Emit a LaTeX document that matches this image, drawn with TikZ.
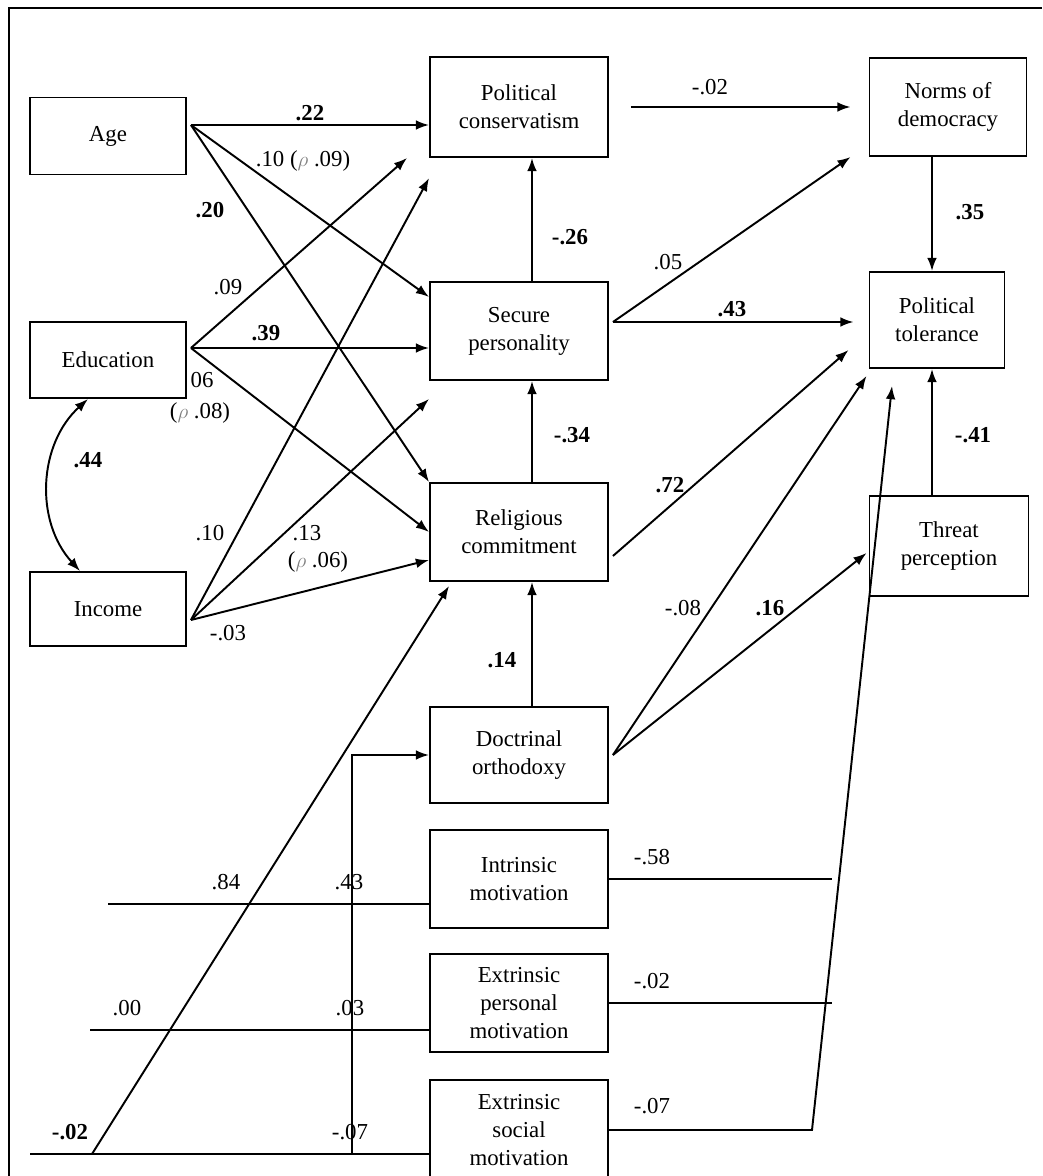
\documentclass[tikz,border=0pt]{standalone}
\usepackage{fontspec}
\setmainfont{Liberation Serif}
\usetikzlibrary{arrows.meta, calc}

\begin{document}
\begin{tikzpicture}[x=0.02cm, y=-0.02cm,
    box/.style={draw, line width=1.1pt, align=center, minimum width=3.56cm, minimum height=1.96cm, font=\fontsize{13}{16}\selectfont},
    arr/.style={-{Latex[length=7.5pt, width=5.5pt]}, line width=1.1pt},
    ln/.style={line width=1.1pt},
    lab/.style={font=\fontsize{13}{15}\selectfont, inner sep=0pt},
    blab/.style={font=\fontsize{13}{15}\selectfont\bfseries, inner sep=0pt}]
    \useasboundingbox (0,0) rectangle (1042,1176);
    \draw[ln] (9,1176) |- (1042,8);

    \node[box, minimum width=3.12cm, minimum height=1.54cm] (age) at (108,136) {Age};
    \node[box, minimum width=3.12cm, minimum height=1.52cm] (edu) at (108,360) {Education};
    \node[box, minimum width=3.12cm, minimum height=1.48cm] (inc) at (108,609) {Income};
    \node[box, minimum height=2cm] (cons) at (519,107) {Political\\conservatism};
    \node[box] (secure) at (519,331) {Secure\\personality};
    \node[box] (relig) at (519,532) {Religious\\commitment};
    \node[box, minimum height=1.92cm] (doctr) at (519,755) {Doctrinal\\orthodoxy};
    \node[box] (intr) at (519,879) {Intrinsic\\motivation};
    \node[box] (extp) at (519,1003) {Extrinsic\\personal\\motivation};
    \node[box, minimum height=2cm] (exts) at (519,1130) {Extrinsic\\social\\motivation};
    \node[box, minimum width=3.14cm] (norms) at (948,107) {Norms of\\democracy};
    \node[box, minimum width=2.7cm, minimum height=1.92cm] (tol) at (937,320) {Political\\tolerance};
    \node[box, minimum width=3.18cm, minimum height=2cm] (threat) at (949,546) {Threat\\perception};

    \coordinate (ageout) at ([xshift=0.08cm, yshift=0.22cm]age.east);
    \coordinate (eduout) at ([xshift=0.08cm, yshift=0.24cm]edu.east);
    \coordinate (incout) at ([xshift=0.08cm, yshift=-0.22cm]inc.east);
    \coordinate (secout) at ([xshift=0.08cm, yshift=0.18cm]secure.east);
    \coordinate (relout) at ([xshift=0.08cm, yshift=-0.48cm]relig.east);
    \coordinate (docout) at ([xshift=0.08cm]doctr.east);
    \coordinate (rend) at (832,0);
    \coordinate (turn) at (812,1130);
    \coordinate (lin1) at (108,904);
    \coordinate (lin2) at (90,1030);
    \coordinate (lin3) at (30,1154);
    \coordinate (diag) at (92,1154);
    \coordinate (vert) at (352,1154);

    \draw[arr] (ageout) -- (ageout -| cons.west);
    \draw[arr] (ageout) -- ([yshift=0.68cm]secure.west);
    \draw[arr] (ageout) -- (relig.north west);
    \draw[arr] (eduout) -- ([xshift=-0.44cm]cons.south west);
    \draw[arr] (eduout) -- (eduout -| secure.west);
    \draw[arr] (eduout) -- (relig.west);
    \draw[arr] (incout) -- ([yshift=-0.4cm]cons.south west);
    \draw[arr] (incout) -- ([yshift=-0.36cm]secure.south west);
    \draw[arr] (incout) -- ([yshift=-0.56cm]relig.west);
    \draw[{Latex[length=7.5pt, width=5.5pt]}-{Latex[length=7.5pt, width=5.5pt]}, line width=1.1pt] ([xshift=-0.4cm]edu.south) to[bend right=45] ([xshift=-0.56cm]inc.north);

    \draw[arr] ([xshift=0.26cm]secure.north) -- ([xshift=0.26cm]cons.south);
    \draw[arr] ([xshift=0.26cm]relig.north) -- ([xshift=0.26cm]secure.south);
    \draw[arr] ([xshift=0.26cm]doctr.north) -- ([xshift=0.26cm]relig.south);

    \draw[arr] ([xshift=0.44cm]cons.east) -- ([xshift=-0.36cm]norms.west);
    \draw[arr] ([xshift=-0.32cm]norms.south) -- ([xshift=-0.32cm]norms.south |- tol.north);
    \draw[arr] (secout) -- ([xshift=-0.36cm]norms.south west);
    \draw[arr] (secout) -- ($(secout -| tol.west)+(-15,0)$);
    \draw[arr] (relout) -- ([xshift=-0.4cm, yshift=-0.6cm]tol.west);
    \draw[arr] (docout) -- ([xshift=-0.04cm, yshift=-0.14cm]tol.south west);
    \draw[arr] (docout) -- ([xshift=-0.04cm, yshift=-0.14cm]threat.west);
    \draw[arr] ([xshift=-0.34cm]threat.north) -- ([xshift=-0.34cm]threat.north |- tol.south);
    \draw[arr] (exts.east) -- (turn) -- ([xshift=-0.9cm, yshift=-0.34cm]tol.south);

    \draw[ln] (intr.east) -- (intr.east -| rend);
    \draw[ln] (extp.east) -- (extp.east -| rend);

    \draw[ln] (lin1) -- (lin1 -| intr.west);
    \draw[ln] (lin2) -- (lin2 -| extp.west);
    \draw[ln] (lin3) -- (lin3 -| exts.west);
    \draw[arr] (diag) -- ([xshift=0.4cm, yshift=-0.08cm]relig.south west);
    \draw[arr] (vert) |- (doctr.west);

    \node[blab] (w22) at (310,113) {.22};
    \node[lab] (w10) at (303,161) {.10 ({\color{gray}$\rho$} .09)};
    \node[blab] (w20) at (210,210) {.20};
    \node[lab] (w09) at (228,287) {.09};
    \node[blab] (w39) at (266,333) {.39};
    \node[lab] (w06) at (202,380) {06};
    \node[lab] (p08) at (200,413) {({\color{gray}$\rho$} .08)};
    \node[blab] (w44) at (88,460) {.44};
    \node[lab] (w10b) at (210,533) {.10};
    \node[lab] (w13) at (307,533) {.13};
    \node[lab] (p06) at (318,562) {({\color{gray}$\rho$} .06)};
    \node[lab] (w03) at (228,633) {-.03};
    \node[blab] (w26) at (570,237) {-.26};
    \node[blab] (w34) at (572,435) {-.34};
    \node[blab] (w14) at (502,660) {.14};
    \node[lab] (w02) at (710,87) {-.02};
    \node[lab] (w05) at (668,262) {.05};
    \node[blab] (w43) at (732,309) {.43};
    \node[blab] (w35) at (970,212) {.35};
    \node[blab] (w72) at (670,485) {.72};
    \node[blab] (w41) at (973,435) {-.41};
    \node[lab] (w08) at (683,608) {-.08};
    \node[blab] (w16) at (770,608) {.16};
    \node[lab] (w58) at (652,857) {-.58};
    \node[lab] (w02b) at (652,981) {-.02};
    \node[lab] (w07) at (652,1106) {-.07};
    \node[lab] (w84) at (226,882) {.84};
    \node[lab] (w43b) at (349,882) {.43};
    \node[lab] (w00) at (127,1008) {.00};
    \node[lab] (w03b) at (350,1008) {.03};
    \node[blab] (w02c) at (70,1132) {-.02};
    \node[lab] (w07b) at (350,1132) {-.07};
\end{tikzpicture}
\end{document}
